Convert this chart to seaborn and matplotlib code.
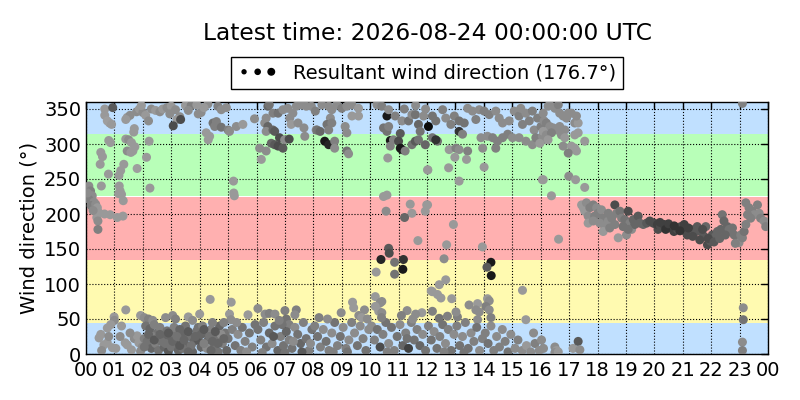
import pandas as pd
import matplotlib
matplotlib.use('Agg')
import matplotlib.pyplot as plt
from matplotlib.legend_handler import HandlerPathCollection
import seaborn as sns

block_00_02 = [
    (0.66, 350, .6), (0.94, 352, .35), (0.66, 341, .6), (0.83, 330, .6), (0.75, 333, .62), (0.9, 328, .6),
    (1.45, 338, .6), (1.55, 341, .55), (1.4, 335, .6), (1.7, 322, .6), (1.68, 317, .6), (1.78, 346, .55),
    (1.88, 350, .6), (2.0, 345, .55), (1.95, 355, .6),
    (0.8, 305, .6), (0.86, 302, .6), (1.4, 307, .6), (1.5, 306, .55), (1.6, 302, .6), (1.72, 296, .6),
    (1.45, 290, .55), (1.58, 288, .6), (1.65, 290, .6), (0.52, 288, .6), (0.58, 282, .6), (0.5, 271, .6),
    (1.33, 271, .6), (1.22, 262, .6), (1.16, 255, .6), (1.8, 265, .62), (0.79, 257, .6), (0.54, 240, .6),
    (1.17, 240, .6), (1.2, 233, .6), (1.25, 228, .6), (1.31, 219, .6), (1.15, 229, .6), (2.25, 237, .6),
    (2.13, 281, .6), (2.22, 304, .6),
    (0.1, 240, .55), (0.16, 233, .5), (0.22, 226, .55), (0.1, 221, .5), (0.28, 217, .55), (0.18, 212, .5),
    (0.34, 214, .55), (0.4, 209, .6), (0.45, 202, .6), (0.38, 195, .6), (0.42, 190, .55), (0.42, 178, .5),
    (0.05, 230, .55), (0.25, 205, .55), (0.65, 200, .6), (0.85, 199, .6), (1.1, 195, .6), (1.3, 197, .6),
    (1.4, 63, .6), (0.99, 53, .6), (1.0, 48, .55), (0.46, 23, .6), (0.63, 13, .6), (0.52, 28, .6),
    (0.75, 37, .6), (0.87, 42, .6), (0.93, 9, .6), (0.75, 16, .6), (0.55, 5, .55), (1.45, 13, .6),
    (1.38, 16, .6), (1.7, 22, .55), (1.8, 26, .6), (1.86, 16, .6), (1.92, 4, .55), (1.98, 10, .55),
    (2.05, 22, .5), (1.6, 6, .6), (1.2, 25, .55), (1.05, 8, .6),
    (1.55, 30, .55), (1.25, 40, .6), (0.8, 25, .55),
]

block_02_04 = [
    (2.3, 350, .55), (2.45, 348, .6), (2.6, 346, .55), (2.7, 350, .6), (2.85, 352, .55), (3.0, 354, .6),
    (3.15, 349, .55), (3.3, 339, .55), (3.2, 335, .6), (3.07, 326, .3), (3.33, 335, .3), (2.95, 343, .55),
    (3.5, 355, .6), (3.7, 355, .5), (3.9, 356, .6), (3.6, 348, .55), (2.1, 341, .6), (2.2, 333, .55),
    (3.95, 343, .55),
    (1.92, 55, .6), (2.05, 52, .55), (2.2, 50, .5), (2.35, 48, .55), (2.8, 52, .55), (3.05, 55, .55),
    (3.15, 50, .5), (3.6, 53, .6), (3.75, 48, .55), (4.0, 57, .6),
    (2.1, 40, .45), (2.25, 36, .4), (2.4, 42, .5), (2.5, 30, .45), (2.6, 38, .5), (2.7, 25, .4),
    (2.85, 33, .45), (2.95, 20, .4), (3.1, 28, .45), (3.2, 15, .35), (3.35, 22, .45), (3.45, 30, .4),
    (3.55, 12, .4), (3.65, 25, .45), (3.8, 18, .4), (3.9, 33, .45), (4.05, 10, .4),
    (2.15, 18, .45), (2.3, 8, .4), (2.45, 15, .5), (2.55, 5, .45), (2.75, 10, .4), (2.9, 4, .35),
    (3.0, 10, .45), (3.25, 5, .4), (3.4, 8, .45), (3.75, 3, .4), (3.95, 20, .35), (2.65, 18, .45),
    (3.1, 38, .5), (3.5, 40, .45), (2.35, 25, .5), (3.3, 35, .4),
    (2.2, 28, .4), (2.4, 20, .35), (2.6, 28, .4), (2.8, 15, .45), (2.9, 30, .35), (3.05, 18, .4),
    (3.2, 25, .45), (3.3, 12, .35), (3.45, 20, .4), (3.6, 32, .35), (3.7, 12, .45), (3.85, 25, .4),
    (3.95, 38, .45), (3.6, 3, .4), (2.05, 10, .45),
]

block_04_06 = [
    (4.29, 357, .55), (4.64, 354, .5), (4.76, 349, .55), (4.94, 352, .55), (4.47, 330, .45), (4.59, 332, .5),
    (4.53, 325, .5), (4.76, 324, .45), (5.0, 320, .5), (5.05, 318, .55), (5.29, 325, .55), (5.52, 328, .6),
    (4.23, 316, .6), (4.35, 311, .6), (4.3, 306, .6), (5.93, 336, .55), (4.05, 345, .55), (4.15, 352, .6),
    (5.19, 247, .6), (5.2, 230, .6), (5.22, 226, .6),
    (4.37, 78, .6), (5.11, 74, .6), (5.05, 57, .6), (5.1, 49, .55), (5.7, 56, .6),
    (4.1, 40, .5), (4.2, 30, .45), (4.3, 20, .4), (4.4, 35, .5), (4.5, 10, .45), (4.6, 25, .45),
    (4.7, 40, .4), (4.8, 15, .5), (4.9, 30, .45), (4.95, 5, .4), (4.25, 8, .55), (4.45, 45, .5),
    (4.65, 3, .45), (4.85, 45, .5), (5.0, 22, .45), (5.15, 35, .5), (5.25, 12, .45), (5.35, 28, .55),
    (5.45, 5, .5), (5.5, 38, .45), (5.6, 18, .5), (5.75, 30, .45), (5.85, 10, .5), (5.95, 42, .45),
    (5.65, 3, .55), (5.3, 45, .55), (4.15, 15, .5), (4.75, 28, .55),
    (4.05, 28, .4), (4.15, 35, .35), (4.35, 25, .45), (4.45, 18, .4), (4.55, 32, .35), (4.65, 15, .4),
    (4.85, 22, .4), (4.4, 5, .4),
]

block_06_08 = [
    (6.4, 354, .4), (6.45, 356, .45), (6.58, 344, .5), (6.76, 344, .45), (6.34, 337, .55), (6.29, 330, .55),
    (6.4, 325, .4), (6.34, 318, .55), (6.58, 320, .4), (6.64, 318, .35), (6.81, 309, .3), (6.99, 306, .55),
    (6.52, 301, .4), (6.64, 299, .35), (6.76, 297, .3), (6.93, 294, .35), (6.11, 294, .55), (6.34, 290, .55),
    (6.17, 278, .6), (6.93, 349, .55), (7.1, 351, .55), (7.28, 344, .55), (7.4, 354, .55), (7.58, 356, .55),
    (7.75, 354, .55), (7.17, 337, .55), (7.22, 328, .6), (7.46, 330, .55), (7.67, 323, .55), (7.93, 354, .55),
    (8.1, 320, .55), (7.15, 307, .3), (7.7, 311, .55),
    (6.05, 65, .55), (6.3, 57, .55), (6.45, 58, .5), (6.65, 57, .55), (7.0, 62, .5), (7.4, 63, .5),
    (7.35, 56, .55), (7.05, 50, .45), (7.15, 42, .5), (6.9, 42, .45),
    (6.05, 35, .45), (6.15, 20, .5), (6.25, 45, .5), (6.35, 10, .45), (6.45, 30, .4), (6.55, 15, .55),
    (6.65, 40, .45), (6.75, 5, .4), (6.85, 25, .5), (6.95, 12, .45), (7.05, 32, .4), (7.15, 20, .5),
    (7.25, 8, .45), (7.35, 38, .55), (7.45, 28, .45), (7.55, 15, .4), (7.65, 45, .5), (7.75, 22, .45),
    (7.85, 5, .5), (7.95, 35, .45), (6.2, 2, .5), (6.6, 25, .35), (7.0, 2, .45), (7.6, 3, .35),
    (7.3, 18, .55), (6.8, 48, .5), (7.9, 15, .55),
]

block_08_10 = [
    (8.07, 347, .5), (8.3, 356, .55), (8.54, 354, .55), (8.65, 349, .55), (8.83, 356, .55), (9.0, 351, .5),
    (9.18, 354, .55), (9.36, 356, .55), (9.59, 351, .6), (8.6, 337, .55), (8.48, 328, .45), (8.65, 330, .5),
    (8.13, 320, .45), (8.24, 318, .4), (8.54, 320, .5), (9.12, 325, .55), (9.18, 316, .55), (9.36, 340, .6),
    (9.59, 340, .6),
    (8.4, 304, .1), (8.54, 299, .15), (8.75, 304, .5), (8.75, 294, .55), (9.18, 290, .45), (9.24, 286, .55),
    (9.38, 74, .6), (9.42, 66, .6), (9.8, 63, .55), (8.98, 59, .55),
    (8.05, 40, .5), (8.15, 25, .45), (8.25, 10, .5), (8.35, 35, .55), (8.45, 18, .45), (8.55, 5, .5),
    (8.65, 30, .55), (8.75, 45, .45), (8.85, 12, .5), (8.95, 25, .45), (9.05, 38, .55), (9.15, 8, .5),
    (9.25, 20, .55), (9.35, 45, .5), (9.45, 30, .55), (9.55, 12, .45), (9.65, 40, .55), (9.75, 22, .5),
    (9.85, 5, .45), (9.95, 35, .55), (9.6, 55, .55), (9.7, 52, .6), (9.9, 50, .55), (8.5, 50, .55),
    (8.2, 52, .5), (9.2, 3, .45), (8.7, 3, .5),
]

block_10_12 = [
    (10.24, 356, .55), (10.41, 354, .5), (10.59, 340, .1), (10.65, 349, .55), (10.47, 323, .45),
    (10.59, 318, .45), (10.65, 325, .5), (10.88, 340, .5), (11.06, 315, .35), (11.12, 333, .55),
    (11.35, 333, .45), (11.47, 342, .55), (11.59, 342, .45), (11.7, 328, .4), (11.76, 318, .45),
    (11.88, 340, .55), (12.05, 325, .05), (11.95, 350, .55), (11.2, 350, .5), (11.6, 355, .55),
    (10.71, 305, .1), (10.82, 306, .5), (10.71, 297, .5), (11.0, 304, .3), (11.06, 294, .1), (11.12, 292, .1),
    (11.23, 290, .5), (11.47, 299, .45), (11.59, 304, .35), (11.7, 306, .45), (11.94, 299, .4),
    (10.62, 280, .6), (12.03, 263, .6),
    (10.47, 225, .6), (10.59, 227, .6), (10.56, 204, .55), (11.41, 214, .6), (11.47, 201, .6),
    (11.21, 195, .4), (11.68, 162, .6), (11.99, 213, .6), (11.94, 204, .6), (10.65, 151, .35),
    (10.67, 144, .3), (10.38, 135, .15), (10.86, 131, .45), (11.17, 135, .2), (11.15, 121, .1),
    (10.86, 114, .45), (10.21, 117, .6),
    (10.18, 82, .6), (10.41, 75, .55), (10.35, 73, .55), (10.3, 61, .6), (10.41, 59, .55), (10.18, 68, .6),
    (12.15, 90, .6), (11.82, 59, .6), (11.3, 62, .55), (11.6, 57, .55),
    (10.05, 40, .55), (10.15, 20, .5), (10.25, 35, .45), (10.35, 10, .3), (10.45, 28, .5), (10.55, 45, .45),
    (10.65, 15, .55), (10.75, 38, .45), (10.85, 5, .5), (10.95, 25, .45), (11.05, 42, .55), (11.15, 12, .4),
    (11.25, 30, .5), (11.35, 8, .25), (11.45, 45, .5), (11.55, 20, .45), (11.65, 35, .5), (11.75, 12, .4),
    (11.85, 28, .55), (11.95, 5, .45), (10.4, 52, .5), (11.1, 55, .5), (11.5, 50, .55), (10.6, 3, .5),
    (11.3, 22, .45),
]

block_12_16 = [
    (12.19, 340, .45), (12.31, 333, .45), (12.55, 349, .5), (12.66, 337, .55), (12.84, 328, .5),
    (12.96, 340, .5), (13.13, 333, .45), (13.31, 330, .45), (13.43, 351, .55), (13.6, 347, .55),
    (13.72, 335, .5), (13.84, 349, .55), (14.01, 347, .5), (14.19, 342, .5), (14.42, 347, .55),
    (14.54, 337, .55), (14.66, 330, .55), (14.89, 333, .55), (15.07, 347, .55), (15.24, 340, .5),
    (15.36, 328, .5), (15.48, 344, .55), (15.6, 333, .5), (15.77, 320, .55), (15.89, 337, .5),
    (16.01, 325, .5), (16.12, 333, .55), (15.3, 351, .55), (15.71, 347, .5),
    (12.19, 309, .45), (12.37, 304, .45), (12.31, 306, .2), (13.13, 318, .2), (13.25, 314, .5),
    (13.9, 309, .55), (14.13, 311, .55), (14.31, 309, .5), (14.48, 304, .5), (14.66, 309, .5),
    (14.84, 314, .5), (15.01, 309, .55), (15.24, 309, .55), (15.48, 304, .55), (15.71, 299, .55),
    (15.83, 309, .5), (16.06, 311, .55),
    (12.78, 292, .6), (13.02, 294, .5), (13.13, 292, .55), (13.43, 290, .5), (12.98, 281, .6),
    (13.39, 278, .6), (13.96, 294, .55), (14.42, 294, .5), (14.01, 267, .6), (12.76, 266, .6),
    (13.13, 247, .6), (12.02, 263, .6), (16.06, 249, .6),
    (12.02, 213, .6), (12.93, 185, .6), (12.69, 156, .6), (13.95, 153, .6), (12.6, 136, .55),
    (14.25, 131, .1), (14.11, 124, .35), (14.26, 112, .1), (12.19, 89, .6), (12.43, 99, .6),
    (12.66, 106, .6), (12.37, 85, .6), (12.49, 80, .6), (12.87, 79, .6), (15.36, 91, .6), (13.48, 70, .55),
    (13.78, 72, .6), (13.72, 63, .55), (13.84, 60, .55), (14.13, 79, .6), (14.19, 76, .55), (14.07, 68, .5),
    (14.19, 63, .55), (12.19, 61, .5), (12.43, 51, .45), (12.72, 54, .5), (13.07, 53, .5), (13.02, 60, .55),
    (13.78, 49, .55), (14.25, 52, .5), (15.48, 49, .6),
    (12.05, 40, .5), (12.15, 20, .45), (12.25, 32, .55), (12.35, 8, .45), (12.45, 25, .5), (12.55, 42, .45),
    (12.65, 15, .55), (12.75, 35, .5), (12.85, 5, .45), (12.95, 28, .55), (13.05, 40, .5), (13.15, 12, .45),
    (13.25, 25, .55), (13.35, 45, .5), (13.45, 8, .45), (13.55, 30, .55), (13.65, 18, .5), (13.75, 38, .45),
    (13.85, 5, .55), (13.95, 22, .5), (12.6, 3, .5), (13.3, 2, .45),
    (14.05, 30, .5), (14.15, 15, .45), (14.25, 40, .55), (14.35, 5, .5), (14.45, 25, .55), (14.55, 10, .5),
    (14.65, 35, .55), (14.75, 18, .5), (14.85, 3, .45), (14.95, 28, .55), (15.1, 8, .55), (15.2, 20, .5),
    (15.35, 5, .55), (15.5, 12, .6), (15.65, 3, .55), (15.8, 15, .5), (15.95, 5, .55), (15.75, 30, .55),
    (16.1, 8, .55),
]

block_16_20 = [
    (16.09, 344, .55), (16.26, 354, .55), (16.32, 356, .55), (16.5, 351, .55), (16.62, 356, .5),
    (16.67, 344, .55), (16.79, 340, .55), (16.91, 337, .55), (16.97, 344, .55), (17.08, 344, .55),
    (17.2, 330, .55), (17.32, 330, .6), (17.26, 340, .55), (16.2, 330, .5), (16.32, 325, .55),
    (16.44, 323, .55), (16.56, 320, .55), (16.67, 325, .55), (16.85, 320, .55), (16.09, 318, .6),
    (16.2, 313, .55), (16.38, 316, .5), (16.09, 306, .55), (16.26, 306, .6), (16.73, 313, .55),
    (16.85, 309, .6), (17.32, 316, .6), (17.2, 313, .6), (16.79, 297, .55), (17.08, 297, .6),
    (17.2, 294, .6), (17.26, 290, .6), (16.97, 287, .5), (17.55, 304, .6), (15.97, 301, .6),
    (16.09, 249, .6), (16.99, 254, .55), (17.23, 249, .6), (17.55, 238, .6), (16.38, 226, .6),
    (16.63, 164, .6),
    (17.44, 213, .6), (17.5, 209, .6), (17.61, 216, .55), (17.55, 204, .6), (17.73, 209, .5),
    (17.85, 213, .5), (17.97, 209, .55), (18.02, 201, .5), (17.67, 197, .55), (17.9, 197, .5),
    (18.14, 206, .55), (18.2, 194, .5), (18.08, 187, .55), (18.26, 182, .55), (18.38, 190, .55),
    (18.5, 194, .5), (18.61, 213, .3), (18.67, 201, .5), (18.79, 204, .45), (18.85, 194, .5),
    (18.96, 192, .45), (19.08, 204, .3), (19.14, 187, .5), (19.2, 178, .55), (19.02, 170, .55),
    (18.73, 166, .6), (18.2, 175, .6), (18.43, 180, .5), (18.61, 185, .5), (18.9, 182, .45),
    (19.26, 192, .4), (19.43, 197, .35), (19.49, 187, .4), (19.61, 185, .4), (19.73, 187, .35),
    (19.84, 190, .3), (19.96, 187, .3), (20.08, 185, .3), (20.13, 178, .3), (17.67, 187, .6),
    (17.85, 190, .55), (18.38, 201, .5), (19.31, 185, .4), (19.08, 178, .45),
    (16.03, 20, .55), (16.5, 10, .55), (16.56, 5, .6), (16.5, 2, .55), (16.62, 3, .6), (17.14, 8, .6),
    (17.32, 18, .35), (17.38, 6, .55),
]

block_20_24 = [
    (19.99, 187, .3), (20.11, 185, .25), (20.22, 182, .3), (20.34, 185, .25), (20.46, 182, .25),
    (20.58, 180, .3), (20.69, 175, .25), (20.81, 178, .3), (20.93, 182, .3), (21.05, 185, .25),
    (21.1, 175, .25), (21.16, 170, .3), (21.28, 178, .3), (21.4, 173, .35), (21.51, 182, .35),
    (21.63, 175, .35), (21.75, 168, .35), (21.87, 156, .3), (21.81, 182, .4), (21.98, 161, .35),
    (22.04, 170, .35), (22.16, 168, .4), (22.22, 175, .4), (22.34, 178, .4), (22.39, 199, .45),
    (22.45, 190, .4), (22.57, 182, .4), (22.63, 178, .45), (22.69, 175, .45), (22.81, 170, .45),
    (22.92, 166, .45), (22.98, 159, .55), (23.04, 170, .5), (23.1, 166, .5), (23.16, 175, .45),
    (23.22, 185, .5), (23.22, 216, .5), (23.33, 209, .5), (23.45, 204, .5), (23.51, 199, .55),
    (23.63, 213, .5), (23.69, 201, .55), (23.74, 194, .5), (23.86, 190, .55), (23.92, 182, .5),
    (23.39, 194, .5), (23.28, 199, .5),
    (20.2, 188, .25), (20.4, 178, .2), (20.5, 186, .25), (20.7, 183, .2), (20.9, 176, .2), (21.2, 180, .25),
    (21.35, 168, .3), (21.6, 163, .3), (21.7, 178, .3), (21.9, 165, .3), (22.1, 160, .35), (22.3, 165, .4),
    (22.5, 170, .4), (22.75, 180, .45), (22.85, 158, .5),
    (23.13, 66, .55), (23.13, 49, .45), (23.1, 17, .55), (23.1, 5, .5), (23.1, 358, .5),
]

hour_labels = ['%02d' % (h % 24) for h in range(25)]
deg_ticks = [0, 50, 100, 150, 200, 250, 300, 350]
title_text = 'Latest time: 2026-08-24 00:00:00 UTC'
legend_text = 'Resultant wind direction (176.7°)'

# compass sectors shaded behind the points
sectors = [(0, 45, '#c0e0ff'), (45, 135, '#fffab0'), (135, 225, '#ffb0b0'),
           (225, 315, '#b8ffb8'), (315, 360, '#c0e0ff')]

rows = (block_00_02 + block_02_04 + block_04_06 + block_06_08 + block_08_10
        + block_10_12 + block_12_16 + block_16_20 + block_20_24)
df = pd.DataFrame(rows, columns=['hour', 'direction', 'shade'])

sns.set_style('white')
plt.rcParams['font.family'] = ['DejaVu Sans']
plt.rcParams['text.color'] = 'black'
plt.rcParams['axes.labelcolor'] = 'black'
plt.rcParams['xtick.color'] = 'black'
plt.rcParams['ytick.color'] = 'black'

fig = plt.figure(figsize=(8, 4), dpi=100)
ax = fig.add_axes([0.1075, 0.115, 0.8525, 0.63])

for lo, hi, col in sectors:
    ax.axhspan(lo, hi, color=col, zorder=0, linewidth=0)

sns.scatterplot(data=df, x='hour', y='direction', hue='shade', palette='gray',
                hue_norm=(0, 1), s=42, linewidth=0, legend=False, zorder=3, ax=ax)

ax.set_xlim(0, 24)
ax.set_ylim(0, 360)
ax.set_xticks(range(25))
ax.set_xticklabels(hour_labels)
ax.set_yticks(deg_ticks)
ax.set_xlabel('')
ax.set_ylabel('Wind direction (°)', fontsize=14)
ax.tick_params(labelsize=14, direction='in', top=True, right=True, length=5,
               width=1, colors='black')
ax.tick_params(axis='x', pad=5)
ax.grid(True, color='black', linestyle=':', linewidth=0.8)
ax.set_axisbelow(False)
for sp in ax.spines.values():
    sp.set_color('black')
    sp.set_linewidth(1)

proxy = ax.scatter([], [], c='black', s=20)
leg = ax.legend([proxy], [legend_text], loc='lower center', bbox_to_anchor=(0.5, 1.05),
                borderaxespad=0, scatterpoints=3, scatteryoffsets=[0.5, 0.5, 0.5], fontsize=14,
                fancybox=False, framealpha=1, edgecolor='black', borderpad=0.35,
                handler_map={proxy: HandlerPathCollection(sizes=[8, 14, 22])})
leg.get_frame().set_linewidth(1)
for t in leg.get_texts():
    t.set_color('black')

fig.text(0.534, 1 - 34 / 400, title_text, ha='center', va='center', fontsize=16.8, color='black')

fig.savefig('out.png', dpi=100)
